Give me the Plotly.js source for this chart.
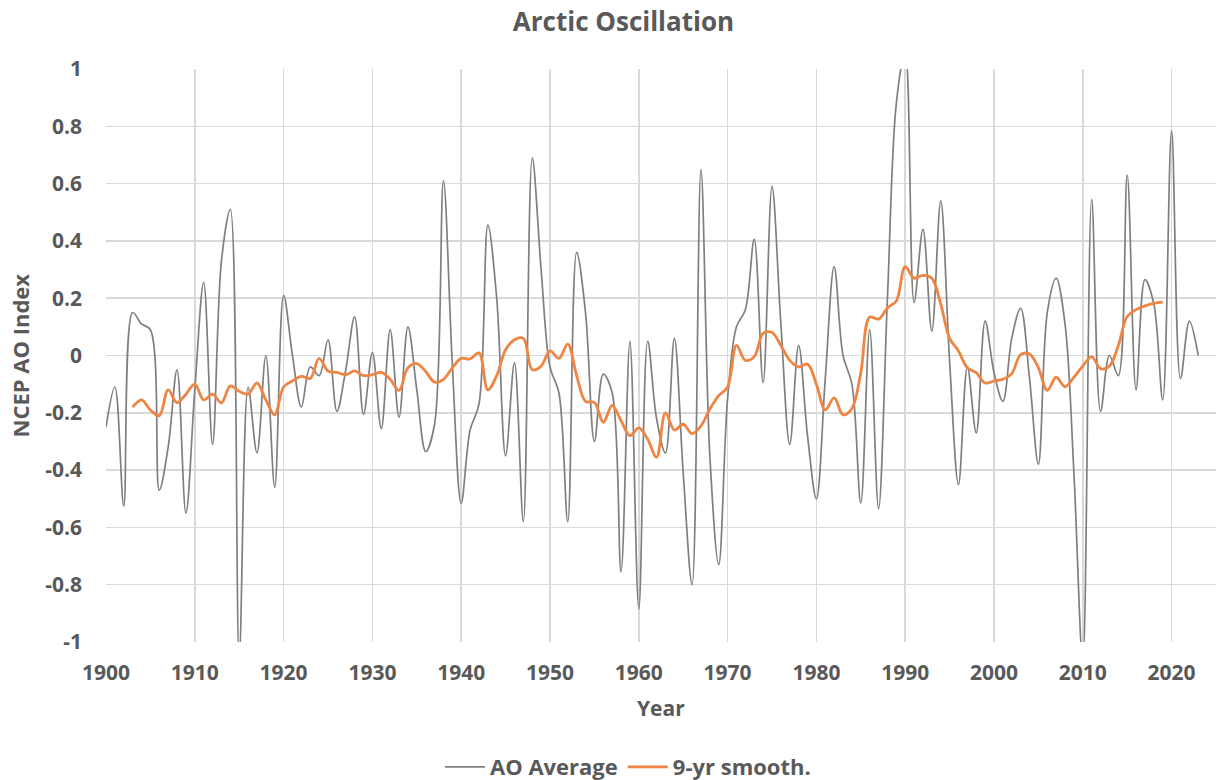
<!DOCTYPE html>
<html>
<head>
<meta charset="utf-8">
<script src="https://cdn.plot.ly/plotly-3.0.1.min.js"></script>
<style>
  html, body { margin: 0; padding: 0; background: #ffffff; }
  #chart { width: 1217px; height: 780px; }
</style>
</head>
<body>
<div id="chart"></div>
<script>
// Annual AO average, 1900-2023
var aoStartYear = 1900;
var aoValues = [
  -0.25, -0.11, -0.525, 0.15, 0.11, 0.09, -0.47, -0.32, -0.05, -0.55,
  -0.12, 0.255, -0.31, 0.33, 0.51, -1.05, -0.11, -0.34, 0.0, -0.46,
  0.21, 0.0, -0.18, -0.04, -0.07, 0.055, -0.195, -0.05, 0.135, -0.205,
  0.01, -0.255, 0.09, -0.215, 0.1, -0.12, -0.335, -0.24, 0.61, -0.03,
  -0.515, -0.26, -0.17, 0.455, 0.2, -0.35, -0.025, -0.58, 0.69, 0.3,
  -0.04, -0.13, -0.58, 0.36, 0.15, -0.3, -0.065, -0.13, -0.755, 0.05,
  -0.885, 0.05, -0.22, -0.34, 0.06, -0.41, -0.8, 0.65, -0.35, -0.73,
  -0.15, 0.1, 0.16, 0.405, -0.095, 0.59, 0.11, -0.31, 0.035, -0.28,
  -0.5, -0.08, 0.31, 0.0, -0.1, -0.515, 0.09, -0.535, 0.2, 0.88,
  1.06, 0.185, 0.44, 0.085, 0.54, -0.02, -0.45, -0.04, -0.27, 0.12,
  -0.06, -0.16, 0.06, 0.165, -0.08, -0.38, 0.15, 0.27, 0.11, -0.41,
  -1.07, 0.545, -0.195, 0.0, -0.07, 0.63, -0.12, 0.265, 0.18, -0.155,
  0.785, -0.08, 0.12, 0.0
];

// 9-year smoothed series, 1903-2019
var smoothStartYear = 1903;
var smoothValues = [
  -0.18, -0.155, -0.19, -0.21, -0.12, -0.165, -0.135,
  -0.10, -0.155, -0.135, -0.165, -0.106, -0.125, -0.135, -0.096, -0.155, -0.207,
  -0.11, -0.089, -0.073, -0.08, -0.01, -0.054, -0.059, -0.067, -0.054, -0.07,
  -0.067, -0.059, -0.083, -0.122, -0.043, -0.028, -0.056, -0.093, -0.083, -0.043,
  -0.01, -0.012, 0.009, -0.12, -0.07, 0.02, 0.055, 0.06, -0.05, -0.037,
  0.016, -0.01, 0.04, -0.07, -0.16, -0.164, -0.233, -0.174, -0.227, -0.28,
  -0.253, -0.292, -0.355, -0.2, -0.26, -0.24, -0.273, -0.246, -0.187, -0.14,
  -0.11, 0.035, -0.017, -0.004, 0.077, 0.08, 0.035, -0.017, -0.04, -0.03,
  -0.1, -0.19, -0.148, -0.207, -0.185, -0.06, 0.134, 0.127, 0.166, 0.19,
  0.31, 0.27, 0.28, 0.27, 0.18, 0.06, 0.016, -0.043, -0.06, -0.096,
  -0.089, -0.083, -0.063, 0.003, 0.005, -0.043, -0.122, -0.076, -0.109, -0.076,
  -0.037, -0.004, -0.046, -0.037, 0.035, 0.136, 0.16, 0.173, 0.182, 0.186
];

var xTickValues = [1900, 1910, 1920, 1930, 1940, 1950, 1960, 1970, 1980, 1990, 2000, 2010, 2020];
var yTickValues = [-1, -0.8, -0.6, -0.4, -0.2, 0, 0.2, 0.4, 0.6, 0.8, 1];
var yTickLabels = ['-1', '-0.8', '-0.6', '-0.4', '-0.2', '0', '0.2', '0.4', '0.6', '0.8', '1'];

function yearsFrom(start, n) {
  var out = [];
  for (var i = 0; i < n; i++) out.push(start + i);
  return out;
}

var textColor = '#595959';
var fontFam = '"Open Sans", Lato, sans-serif';

var traces = [
  {
    x: yearsFrom(aoStartYear, aoValues.length),
    y: aoValues,
    type: 'scatter',
    mode: 'lines',
    name: 'AO Average',
    line: { color: '#7f7f7f', width: 1.7, shape: 'spline', smoothing: 1 }
  },
  {
    x: yearsFrom(smoothStartYear, smoothValues.length),
    y: smoothValues,
    type: 'scatter',
    mode: 'lines',
    name: '9-yr smooth.',
    line: { color: '#F08443', width: 2.8, shape: 'spline', smoothing: 1 }
  }
];

var layout = {
  width: 1217,
  height: 780,
  paper_bgcolor: '#ffffff',
  plot_bgcolor: '#ffffff',
  margin: { l: 106, r: 1, t: 69, b: 138 },
  font: { family: fontFam, color: textColor, size: 20, weight: 'bold' },
  title: {
    text: 'Arctic Oscillation',
    font: { family: fontFam, size: 26, color: textColor, weight: 'bold' },
    xref: 'container', x: 623.5 / 1217, xanchor: 'center',
    yref: 'container', y: 1 - 22 / 780, yanchor: 'middle'
  },
  xaxis: {
    range: [1900, 2025],
    tickvals: xTickValues,
    ticktext: xTickValues.map(String),
    showgrid: true,
    gridcolor: '#d9d9d9',
    gridwidth: 1.5,
    zeroline: false,
    showline: false,
    ticks: '',
    ticklabelstandoff: 16,
    tickfont: { family: fontFam, size: 21, color: textColor, weight: 'bold' }
  },
  yaxis: {
    range: [-1, 1],
    tickvals: yTickValues,
    ticktext: yTickLabels,
    showgrid: true,
    gridcolor: '#d9d9d9',
    gridwidth: 1.5,
    zeroline: false,
    showline: false,
    ticks: '',
    ticklabelstandoff: 23,
    tickfont: { family: fontFam, size: 21, color: textColor, weight: 'bold' }
  },
  showlegend: true,
  legend: {
    orientation: 'h',
    xref: 'container', x: 628 / 1217, xanchor: 'center',
    yref: 'container', y: 1 - 767 / 780, yanchor: 'middle',
    font: { family: fontFam, size: 22, color: textColor, weight: 'bold' },
    itemwidth: 40,
    tracegroupgap: 0
  },
  annotations: [
    {
      text: 'Year', xref: 'paper', yref: 'paper',
      x: (661 - 106) / 1110, y: (642 - 708) / 573, xanchor: 'center', yanchor: 'middle',
      showarrow: false,
      font: { family: fontFam, size: 21, color: textColor, weight: 'bold' }
    },
    {
      text: 'NCEP AO Index', xref: 'paper', yref: 'paper',
      x: (19 - 106) / 1110, y: 0.5, xanchor: 'center', yanchor: 'middle',
      textangle: -90, showarrow: false,
      font: { family: fontFam, size: 22, color: textColor, weight: 'bold' }
    }
  ]
};

Plotly.newPlot('chart', traces, layout, { displayModeBar: false, staticPlot: true });
</script>
</body>
</html>
